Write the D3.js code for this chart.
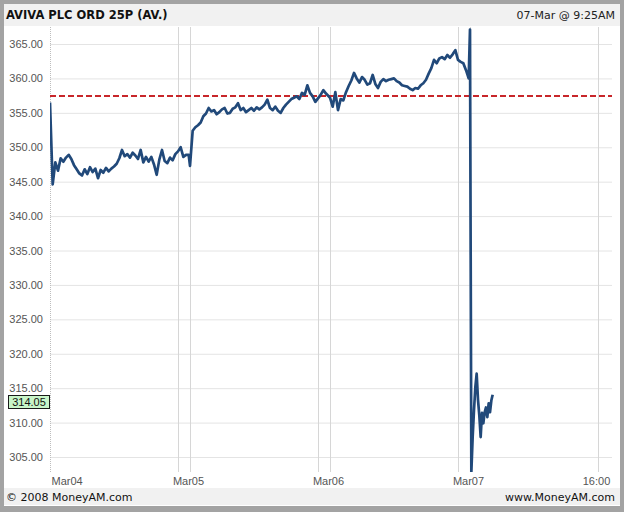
<!DOCTYPE html>
<html><head><meta charset="utf-8">
<script src="https://cdn.jsdelivr.net/npm/d3@7"></script>
<style>
html,body{margin:0;padding:0;background:#fff;}
svg{display:block;}
</style></head>
<body>
<svg id="c" width="624" height="512"></svg>
<script>
const title = "AVIVA PLC ORD 25P (AV.)";
const stamp = "07-Mar @ 9:25AM";
const footLeft = "© 2008 MoneyAM.com";
const footRight = "www.MoneyAM.com";
const days = ["Mar04", "Mar05", "Mar06", "Mar07"];
const yTicks = [305, 310, 315, 320, 325, 330, 335, 340, 345, 350, 355, 360, 365];
const prevClose = 357.44;
const lastPrice = 314.05;
const stepMinutes = 10; // Mar04–Mar06 prices every 10 minutes from 08:00
const mar04 = [356.5,344.6,347.8,346.6,348.4,347.9,348.5,348.9,348.3,347.4,346.8,346.2,345.9,346.8,346.1,347.1,346.4,346.9,345.5,346.7,346.3,347.0,346.5,346.9,347.2,347.6,348.4,349.6,348.7,349.0,348.5,349.2,348.8,348.3,349.6,347.8,348.6,347.9,348.6,347.5,346.0,348.2,349.6,348.0,347.7,348.5,348.1,349.0,349.4,350.0,348.6,348.9,348.9];
const mar05 = [347.3,352.4,352.9,353.2,353.6,354.5,354.9,355.7,355.2,355.4,354.8,355.1,355.5,355.7,354.9,355.0,355.6,355.8,356.4,355.4,355.7,355.1,355.4,355.7,355.3,355.8,355.5,355.8,356.2,356.9,355.7,355.4,355.9,355.3,355.0,355.7,356.2,356.6,357.0,357.2,357.4,357.0,357.9,357.6,359.0,357.9,357.4,356.6,357.1,357.6,358.3,357.8,357.4];
const mar06 = [357.2,355.9,358.0,355.4,357.0,356.8,358.0,358.9,359.7,360.8,360.0,359.4,360.2,359.8,359.1,359.3,360.5,359.2,358.6,359.5,359.9,359.6,359.8,359.9,360.0,359.6,359.4,359.0,358.9,358.8,358.5,358.3,358.6,358.5,359.0,359.3,359.8,360.7,361.5,362.7,362.2,362.9,363.1,362.8,363.4,363.0,363.5,364.1,362.7,362.4,362.2,361.2,360.0];
const mar07Minutes = [0,5,10,15,20,25,30,35,40,45,50,55,60,65,70,75,80,85];
const mar07 = [367.1,302.8,307.9,311.8,315.1,317.1,313.3,311.0,307.9,311.4,309.9,311.5,312.2,310.8,312.8,311.5,313.2,314.05];

const sessionHours = 8.75; // 08:00 – 16:45 per day on the axis
const tOf = (d, min) => d * sessionHours + min / 60;

const series = [];
[mar04, mar05, mar06].forEach((arr, d) => arr.forEach((v, i) => series.push({t: tOf(d, i * stepMinutes), v})));
mar07.forEach((v, i) => series.push({t: tOf(3, mar07Minutes[i]), v}));

const svg = d3.select("#c");
const W = 624, H = 512;
const plot = {l: 50, r: 612, t: 27, b: 472};

const x = d3.scaleLinear().domain([0, 4 * sessionHours]).range([50, 610]);
const y = d3.scaleLinear().domain([305, 365]).range([457, 44]);

// frame
svg.append("rect").attr("width", W).attr("height", H).attr("fill", "#a3a3a3");
svg.append("rect").attr("x", 4).attr("y", 4).attr("width", W - 8).attr("height", H - 10).attr("fill", "#ffffff");
svg.append("rect").attr("x", 4).attr("y", 4).attr("width", W - 8).attr("height", 22).attr("fill", "#f1f1f1");
svg.append("rect").attr("x", 4).attr("y", 488).attr("width", W - 8).attr("height", 17).attr("fill", "#f1f1f1");

const font = "'DejaVu Sans', Verdana, sans-serif";
svg.append("text").attr("x", 6).attr("y", 19).attr("font-family", font).attr("font-weight", "bold")
  .attr("font-size", 11.5).attr("fill", "#111").text(title);
svg.append("text").attr("x", 615).attr("y", 19).attr("text-anchor", "end").attr("font-family", font)
  .attr("font-size", 11).attr("fill", "#222").text(stamp);
svg.append("text").attr("x", 6).attr("y", 501).attr("font-family", font)
  .attr("font-size", 11).attr("fill", "#111").text(footLeft);
svg.append("text").attr("x", 615).attr("y", 501).attr("text-anchor", "end").attr("font-family", font)
  .attr("font-size", 11).attr("fill", "#111").text(footRight);

// horizontal grid
svg.append("g").selectAll("line").data(yTicks).join("line")
  .attr("x1", plot.l).attr("x2", plot.r).attr("y1", d => y(d) + 0.5).attr("y2", d => y(d) + 0.5)
  .attr("stroke", "#e4e4e4").attr("stroke-width", 1);

// vertical grid: day opens and 16:00 closes
const vlines = [];
for (let d = 0; d < days.length; d++) {
  if (d > 0) vlines.push(tOf(d, 0));
  vlines.push(tOf(d, 480));
}
svg.append("g").selectAll("line").data(vlines).join("line")
  .attr("x1", d => Math.round(x(d)) + 0.5).attr("x2", d => Math.round(x(d)) + 0.5)
  .attr("y1", plot.t).attr("y2", plot.b).attr("stroke", "#d6d6d6").attr("stroke-width", 1);
svg.append("line").attr("x1", 50.5).attr("x2", 50.5).attr("y1", plot.t).attr("y2", plot.b)
  .attr("stroke", "#bdbdbd").attr("stroke-dasharray", "1,1");

// y axis
const yAxis = d3.axisLeft(y).tickValues(yTicks).tickFormat(d3.format(".2f")).tickSize(0).tickPadding(7);
const gy = svg.append("g").attr("transform", "translate(50,0)").call(yAxis);
gy.select(".domain").remove();
gy.selectAll("text").attr("font-family", "'Liberation Sans', Arial, sans-serif").attr("font-size", 11).attr("fill", "#555");

// x axis
const xTickVals = [tOf(0, 0), tOf(1, 0), tOf(2, 0), tOf(3, 0), tOf(3, 480)];
const xLabels = [...days, "16:00"];
const xAxis = d3.axisBottom(x).tickValues(xTickVals).tickFormat((d, i) => xLabels[i]).tickSize(0).tickPadding(0);
const gx = svg.append("g").attr("transform", "translate(0,477)").call(xAxis);
gx.select(".domain").remove();
gx.selectAll("text").attr("font-family", "'Liberation Sans', Arial, sans-serif").attr("font-size", 11).attr("fill", "#555")
  .attr("text-anchor", (d, i) => i === 0 ? "start" : "middle").attr("dx", (d, i) => i === 0 ? 1 : -2);

// clip
svg.append("clipPath").attr("id", "pc").append("rect")
  .attr("x", plot.l).attr("y", plot.t).attr("width", plot.r - plot.l).attr("height", plot.b - plot.t);

// previous close
svg.append("line").attr("x1", plot.l).attr("x2", plot.r).attr("y1", y(prevClose)).attr("y2", y(prevClose))
  .attr("stroke", "#c8262a").attr("stroke-width", 2).attr("stroke-dasharray", "6,3");

// price line
const line = d3.line().x(d => x(d.t)).y(d => y(d.v));
svg.append("path").datum(series).attr("clip-path", "url(#pc)").attr("d", line)
  .attr("fill", "none").attr("stroke", "#21497a").attr("stroke-width", 2.7).attr("stroke-linejoin", "round");

// last price badge
const by = y(lastPrice);
svg.append("rect").attr("x", 8.5).attr("y", Math.round(by) + 0.5).attr("width", 41).attr("height", 13)
  .attr("fill", "#c8f5c8").attr("stroke", "#1a1a1a").attr("stroke-width", 1);
svg.append("text").attr("x", 29).attr("y", Math.round(by) + 11).attr("text-anchor", "middle")
  .attr("font-family", "'Liberation Sans', Arial, sans-serif").attr("font-size", 11).attr("fill", "#111")
  .text(d3.format(".2f")(lastPrice));
</script>
</body></html>
